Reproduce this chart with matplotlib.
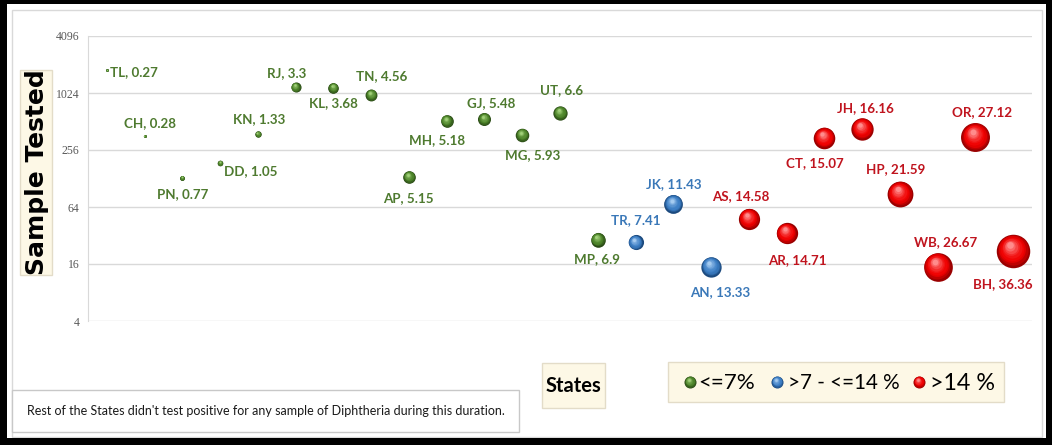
import numpy as np
import matplotlib
matplotlib.use("Agg")
import matplotlib.pyplot as plt
from matplotlib import font_manager
from matplotlib.colors import to_rgb
from matplotlib.patches import Rectangle
from matplotlib.transforms import offset_copy

# state codes in plotting order, % positivity (bubble size) and samples tested
states = ["TL", "CH", "PN", "DD", "KN", "RJ", "KL", "TN", "AP", "MH", "GJ", "MG", "UT",
          "MP", "TR", "JK", "AN", "AS", "AR", "CT", "JH", "HP", "WB", "OR", "BH"]
positivity = [0.27, 0.28, 0.77, 1.05, 1.33, 3.3, 3.68, 4.56, 5.15, 5.18, 5.48, 5.93, 6.6,
              6.9, 7.41, 11.43, 13.33, 14.58, 14.71, 15.07, 16.16, 21.59, 26.67, 27.12, 36.36]
samples = [1790, 360, 130, 187, 378, 1185, 1160, 975, 133, 518, 544, 369, 630,
           29, 27, 69, 15, 48, 34, 343, 427, 88, 15, 351, 22]

y_ticks = [4, 16, 64, 256, 1024, 4096]
legend_labels = ["<=7%", ">7 - <=14 %", ">14 %"]

# label offsets from bubble centre in pixels (x right, y down)
label_off = {
    "TL": (27, 2), "CH": (5, -13), "PN": (0, 16), "DD": (31, 8), "KN": (1, -15),
    "RJ": (-9, -14), "KL": (0, 15), "TN": (10, -19), "AP": (-1, 21), "MH": (-10, 19),
    "GJ": (7, -16), "MG": (10, 20), "UT": (2, -23), "MP": (-1, 20), "TR": (0, -22),
    "JK": (1, -20), "AN": (9, 25), "AS": (-8, -23), "AR": (11, 27), "CT": (-9, 25),
    "JH": (3, -21), "HP": (-4, -25), "WB": (8, -25), "OR": (7, -25), "BH": (-10, 33),
}

# (dark rim, body, highlight, text colour) per band
palette = {
    "green": ("#2A4A16", "#4B8228", "#A2D27A", "#4E7A2F"),
    "blue": ("#1C4A7E", "#3B7DC4", "#A5CBF0", "#3A78B8"),
    "red": ("#9A0000", "#F00000", "#FF8C8C", "#C0141E"),
}

installed = {f.name for f in font_manager.fontManager.ttflist}
NARROW = next(n for n in ["Liberation Sans Narrow", "Lato", "Roboto", "DejaVu Sans"]
              if n in installed)
W, H = 1052, 445
PX = 72 / 100  # points per pixel


def band(p):
    if p <= 7:
        return "green"
    if p <= 14:
        return "blue"
    return "red"


def mix(a, b, t):
    a, b = np.array(to_rgb(a)), np.array(to_rgb(b))
    return tuple(a + (b - a) * t)


def draw_sphere(ax, fig, x, y, size, key, trans, n=9, z=3):
    dark, body, light, _ = palette[key]
    r = np.sqrt(size) / 2
    for k in range(n):
        t = k / (n - 1)
        frac = 1 - 0.8 * t
        if t < 0.3:
            c = mix(dark, body, t / 0.3)
        else:
            c = mix(body, light, ((t - 0.3) / 0.7) ** 1.6)
        tr = offset_copy(trans, fig=fig, x=-0.18 * r * t, y=0.35 * r * t, units="points")
        ax.scatter([x], [y], s=size * frac ** 2, color=c, linewidths=0,
                   transform=tr, zorder=z + k * 0.01)


def fit(txt, target, renderer, vertical=False):
    # rescale font so the text spans target pixels
    bb = txt.get_window_extent(renderer)
    span = bb.height if vertical else bb.width
    txt.set_fontsize(txt.get_fontsize() * target / span)


fig = plt.figure(figsize=(W / 100, H / 100), dpi=100)
fig.patch.set_facecolor("white")
renderer = fig.canvas.get_renderer()

ax = fig.add_axes([88 / W, 1 - 321 / H, 944 / W, 285 / H])
ax.set_yscale("log", base=2)
ax.set_ylim(4, 4096)
ax.set_xlim(0.5, len(states) + 0.5)
ax.set_yticks(y_ticks)
ax.set_yticklabels([str(v) for v in y_ticks], family=["Liberation Serif", "DejaVu Serif"],
                   fontsize=8.5, color="#595959")
ax.minorticks_off()
ax.set_xticks([])
ax.tick_params(axis="y", length=0, pad=6)
ax.grid(axis="y", color="#D9D9D9", lw=1)
ax.set_axisbelow(True)
for side in ["top", "right", "bottom"]:
    ax.spines[side].set_visible(False)
ax.spines["left"].set_color("#D9D9D9")

xs = np.arange(1, len(states) + 1)
for x, st, p, n in zip(xs, states, positivity, samples):
    key = band(p)
    size = 16 * p
    draw_sphere(ax, fig, x, n, size, key, ax.transData)
    dx, dy = label_off[st]
    ax.annotate(f"{st}, {p:g}", (x, n), xytext=(dx * PX, -dy * PX), textcoords="offset points",
                ha="center", va="center", fontsize=9.6, fontweight="bold",
                family=NARROW, color=palette[key][3], zorder=6)

# overlay in pixel coordinates for the frame, boxes and legend
ov = fig.add_axes([0, 0, 1, 1])
ov.set_xlim(0, W)
ov.set_ylim(H, 0)
ov.axis("off")
ov.patch.set_alpha(0)

# chart area border and outer black frame
ov.add_patch(Rectangle((12, 10), 1030, 427, fill=False, ec="#D9D9D9", lw=1))
for rx, ry, rw, rh in [(0, 0, W, 4), (0, H - 7, W, 7), (0, 0, 7, H), (W - 6, 0, 6, H)]:
    ov.add_patch(Rectangle((rx, ry), rw, rh, color="black", lw=0))

cream = "#FDF8E6"
ov.add_patch(Rectangle((20, 70), 32, 205, fc=cream, ec="#E3DCC8", lw=1))
ylab = ov.text(37, 172, "Sample Tested", rotation=90, ha="center", va="center",
               fontsize=16, fontweight="bold", color="black", family="DejaVu Sans")
fit(ylab, 206, renderer, vertical=True)

ov.add_patch(Rectangle((542, 363), 63, 45, fc=cream, ec="#E3DCC8", lw=1))
xlab = ov.text(573.5, 386, "States", ha="center", va="center", fontsize=16,
               fontweight="bold", family=NARROW, color="black")
fit(xlab, 56, renderer)

# legend
ov.add_patch(Rectangle((668, 362), 336, 40, fc=cream, ec="#E3DCC8", lw=1))
leg_x = [(690, 698, 57), (777, 788, 112), (919, 930, 65)]
for (mx, tx, tw), lab, key in zip(leg_x, legend_labels, ["green", "blue", "red"]):
    draw_sphere(ov, fig, mx, 382, 75, key, ov.transData, z=5)
    t = ov.text(tx, 383, lab, ha="left", va="center", fontsize=16, family=NARROW, color="black")
    fit(t, tw, renderer)

# note box
ov.add_patch(Rectangle((12, 390), 507, 42, fc="white", ec="#C8C8C8", lw=1))
note = ov.text(27, 411, "Rest of the States didn't test positive for any sample of Diphtheria during this duration.",
               ha="left", va="center", fontsize=8.6, family=NARROW, color="#1A1A1A")
fit(note, 475, renderer)

fig.savefig("out.png", dpi=100)
